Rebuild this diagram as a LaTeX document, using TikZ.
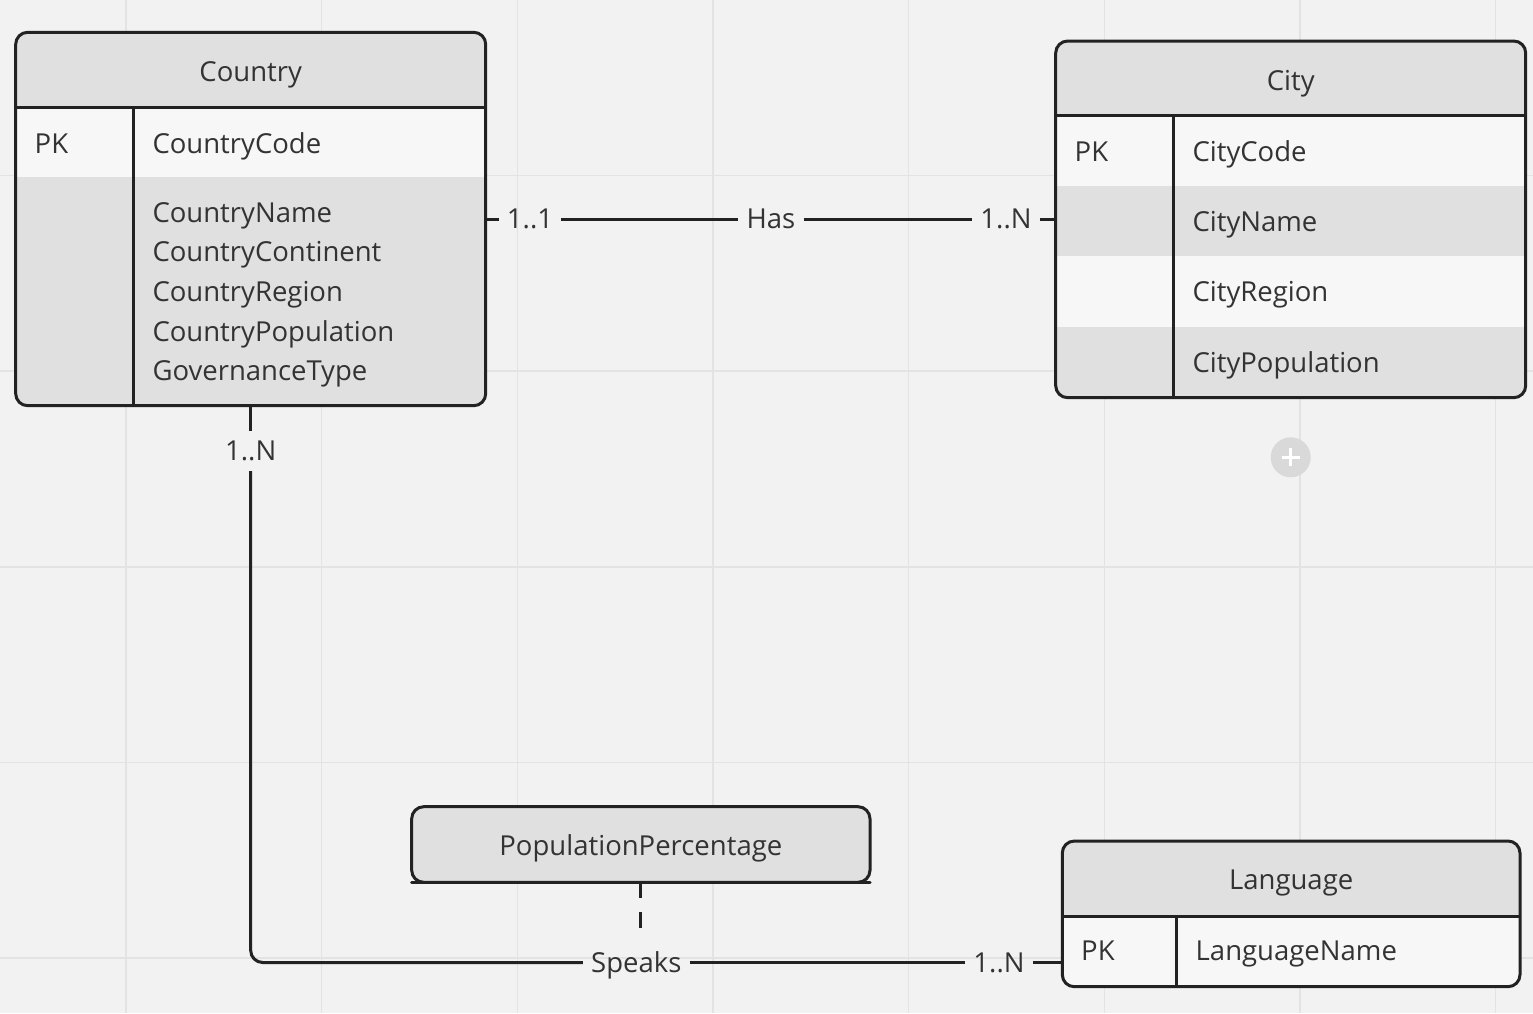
\documentclass[tikz,border=0pt]{standalone}
\usepackage{fontspec}
\setmainfont{Open Sans}
\definecolor{bg}{HTML}{F2F2F2}
\definecolor{gridc}{HTML}{E3E3E3}
\definecolor{hdr}{HTML}{E0E0E0}
\definecolor{rowlight}{HTML}{F7F7F7}
\definecolor{rowdark}{HTML}{E0E0E0}
\definecolor{ink}{HTML}{222222}
\definecolor{txt}{HTML}{333333}
\definecolor{plusc}{HTML}{D9D9D9}
\begin{document}
\begin{tikzpicture}[x=1pt,y=-1pt,
  every node/.style={font=\fontsize{27.5}{38}\selectfont, text=txt},
  outline/.style={draw=ink, line width=3pt, rounded corners=12pt, inner sep=0pt, outer sep=0pt},
  sepline/.style={draw=ink, line width=3pt},
  attr/.style={anchor=base west, inner sep=0pt},
  title/.style={anchor=base, inner sep=0pt},
  lbl/.style={anchor=center, text height=19.6pt, text depth=0pt, inner xsep=8pt, inner ysep=0pt},
  conn/.style={draw=ink, line width=3pt}
]
% background and grid
\useasboundingbox (0,0) rectangle (1533,1013);
\fill[bg] (0,0) rectangle (1533,1013);
\foreach \gx in {126,321.7,517.3,713,908.6,1104.3,1300,1495.6}
  \draw[gridc, line width=1.5pt] (\gx,0) -- (\gx,1013);
\foreach \gy in {175.5,371.2,566.8,762.5,958.1}
  \draw[gridc, line width=1.5pt] (0,\gy) -- (1533,\gy);

% ---------- Country ----------
\begin{scope}
  \clip[rounded corners=12pt] (15.7,32.3) rectangle (485.7,405.7);
  \fill[hdr] (15.7,32.3) rectangle (485.7,107.7);
  \fill[rowlight] (15.7,107.7) rectangle (485.7,177);
  \fill[rowdark] (15.7,177) rectangle (485.7,405.7);
\end{scope}
\draw[sepline] (15.7,107.7) -- (485.7,107.7);
\draw[sepline] (133.3,107.7) -- (133.3,405.7);
\node[outline, minimum width=470pt, minimum height=373.4pt] (country) at (250.7,219) {};
\node[title] (countryT) at (250.7,81) {Country};
\node[attr] (countryPK) at (34.5,153.3) {PK};
\node[attr] (countryA1) at (152.3,153.3) {CountryCode};
\node[attr] (countryA2) at (152.3,222.7) {CountryName};
\node[attr] (countryA3) at (152.3,261.7) {CountryContinent};
\node[attr] (countryA4) at (152.3,301) {CountryRegion};
\node[attr] (countryA5) at (152.3,341) {CountryPopulation};
\node[attr] (countryA6) at (152.3,380) {GovernanceType};

% ---------- City ----------
\begin{scope}
  \clip[rounded corners=12pt] (1055.7,41) rectangle (1525.7,397.7);
  \fill[hdr] (1055.7,41) rectangle (1525.7,115.7);
  \fill[rowlight] (1055.7,115.7) rectangle (1525.7,185.5);
  \fill[rowdark] (1055.7,185.5) rectangle (1525.7,255.7);
  \fill[rowlight] (1055.7,255.7) rectangle (1525.7,326.7);
  \fill[rowdark] (1055.7,326.7) rectangle (1525.7,397.7);
\end{scope}
\draw[sepline] (1055.7,115.7) -- (1525.7,115.7);
\draw[sepline] (1173.3,115.7) -- (1173.3,397.7);
\node[outline, minimum width=470pt, minimum height=356.7pt] (city) at (1290.7,219.35) {};
\node[title] (cityT) at (1290.7,90) {City};
\node[attr] (cityPK) at (1074.5,161.7) {PK};
\node[attr] (cityA1) at (1192.3,161.7) {CityCode};
\node[attr] (cityA2) at (1192.3,231) {CityName};
\node[attr] (cityA3) at (1192.3,301.7) {CityRegion};
\node[attr] (cityA4) at (1192.3,372.3) {CityPopulation};

% plus button
\node[circle, fill=plusc, minimum size=40pt, inner sep=0pt] (plus) at (1290.7,457.3) {};
\draw[white, line width=2.5pt] ([xshift=-9pt]plus.center) -- ([xshift=9pt]plus.center);
\draw[white, line width=2.5pt] ([yshift=-9pt]plus.center) -- ([yshift=9pt]plus.center);

% ---------- Language ----------
\begin{scope}
  \clip[rounded corners=12pt] (1062.3,841) rectangle (1520,986.7);
  \fill[hdr] (1062.3,841) rectangle (1520,916);
  \fill[rowlight] (1062.3,916) rectangle (1520,986.7);
\end{scope}
\draw[sepline] (1062.3,916) -- (1520,916);
\draw[sepline] (1176.7,916) -- (1176.7,986.7);
\node[outline, minimum width=457.7pt, minimum height=145.7pt] (language) at (1291.15,913.85) {};
\node[title] (languageT) at (1291.15,889) {Language};
\node[attr] (languagePK) at (1081,960) {PK};
\node[attr] (languageA1) at (1195.5,960) {LanguageName};

% ---------- PopulationPercentage ----------
\node[outline, fill=hdr, minimum width=458.3pt, minimum height=75.6pt] (pop) at (640.85,844.5) {};
\draw[sepline, line cap=round] (pop.south west) -- (pop.south east);
\node[title] (popT) at (640.85,855.7) {PopulationPercentage};

% ---------- connector labels ----------
\node[lbl] (c11) at (530,219) {1..1};
\node[lbl] (has) at (771,219) {Has};
\node[lbl] (c1n) at (1006,219) {1..N};
\node[lbl, inner ysep=10pt] (cn) at (250.7,451) {1..N};
\node[lbl] (speaks) at (636.3,962.5) {Speaks};
\node[lbl] (l1n) at (999,962.5) {1..N};

% ---------- connectors ----------
\draw[conn] (country.east) -- (c11.west);
\draw[conn] (c11.east) -- (has.west);
\draw[conn] (has.east) -- (c1n.west);
\draw[conn] (c1n.east) -- (c1n.east -| city.west);
\draw[conn] (country.south) -- (cn.north);
\draw[conn, rounded corners=12pt] (cn.south) |- (speaks.west);
\draw[conn] (speaks.east) -- (l1n.west);
\draw[conn] (l1n.east) -- (l1n.east -| language.west);
\draw[conn, dash pattern=on 16pt off 14pt, shorten >=24pt] (pop.south) -- (pop.south |- speaks.north);
\end{tikzpicture}
\end{document}
